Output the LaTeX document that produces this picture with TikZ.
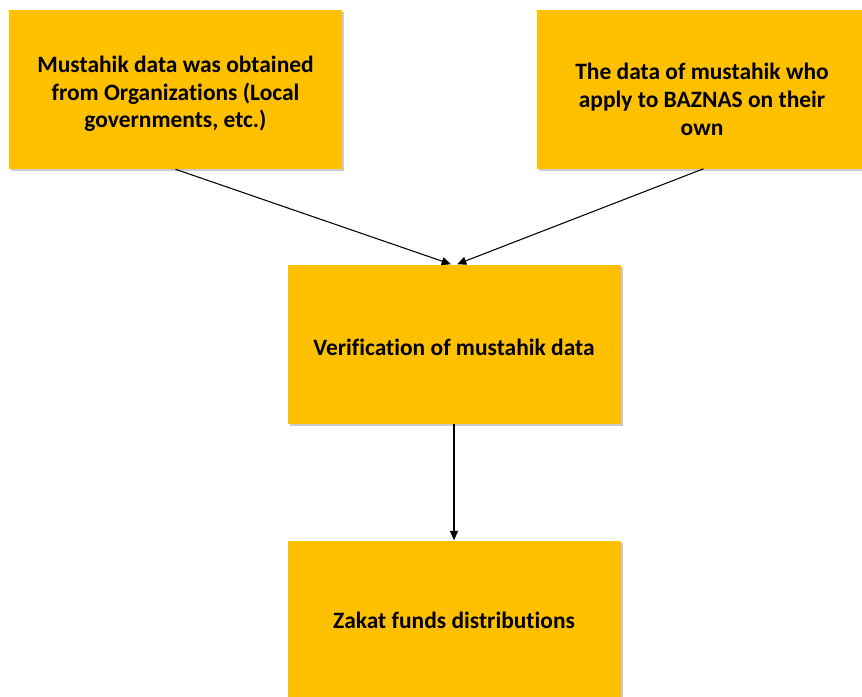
\documentclass[tikz,border=0pt]{standalone}
\usepackage{fontspec}
\setmainfont{Carlito}[Ligatures=NoCommon]
\usetikzlibrary{shadows,arrows.meta,calc}
\definecolor{boxfill}{HTML}{FFC000}
\tikzset{
  box/.style={draw=none, fill=boxfill, minimum width=333*0.75pt, minimum height=159*0.75pt,
    drop shadow={shadow xshift=1.5pt, shadow yshift=-1.5pt, opacity=0.35, fill=black!60}},
  txt/.style={align=center, inner sep=0pt, font=\bfseries\fontsize{17.6}{20.8}\selectfont},
  conn/.style={draw=black, line width=0.8pt, -{Triangle[length=7pt,width=6pt]}}
}
\begin{document}
\begin{tikzpicture}[x=0.75pt,y=-0.75pt]
\useasboundingbox (0,0) rectangle (862,696);
\clip (0,0) rectangle (862,696);
\node[box] (a) at (175.5,89.5) {};
\node[box] (b) at (703.5,89) {};
\node[box] (v) at (454,344) {};
\node[box] (z) at (454,620) {};
\node[txt] (at) at (175.5,94) {Mustahik data was obtained\\from Organizations (Local\\governments, etc.)};
\node[txt] (bt) at (702,99.5) {The data of mustahik who\\apply to BAZNAS on their\\own};
\node[txt] (vt) at (454,347) {Verification of mustahik data};
\node[txt] (zt) at (454,620) {Zakat funds distributions};
\coordinate (v1) at ($(v.north)+(-3,0)$);
\coordinate (v2) at ($(v.north)+(3,0)$);
\draw[conn] (a.south) -- (v1);
\draw[conn] (b.south) -- (v2);
\draw[conn] (v.south) -- (z.north);
\end{tikzpicture}
\end{document}
